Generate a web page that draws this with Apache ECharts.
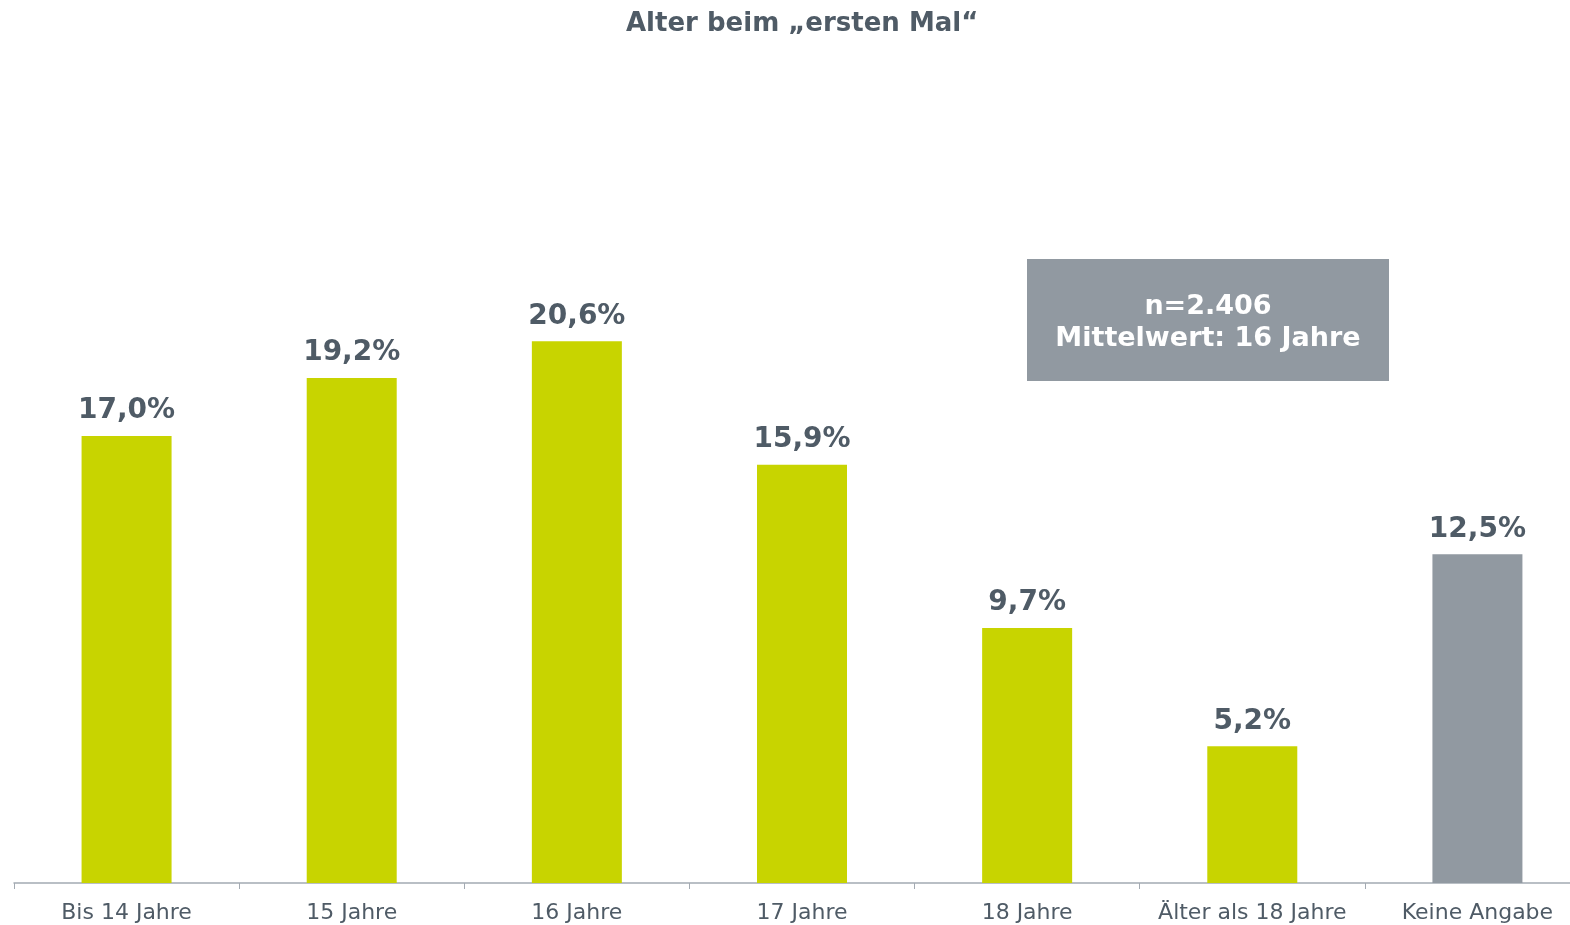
<!DOCTYPE html>
<html>
<head>
<meta charset="utf-8">
<script src="https://cdn.jsdelivr.net/npm/echarts@6/dist/echarts.min.js"></script>
<style>
  html, body { margin: 0; padding: 0; background: #fff; }
  #chart { width: 1570px; height: 925px; }
</style>
</head>
<body>
<div id="chart"></div>
<script>
// Altersgruppen und Anteile in %
const categories = ['Bis 14 Jahre', '15 Jahre', '16 Jahre', '17 Jahre', '18 Jahre', 'Älter als 18 Jahre', 'Keine Angabe']
const values = [17.0, 19.2, 20.6, 15.9, 9.7, 5.2, 12.5]
const noteLines = ['n=2.406', 'Mittelwert: 16 Jahre']

const GREEN = '#c8d400'
const GREY = '#9199a1'
const TEXT = '#4f5b66'
const FONT = 'Verdana, "DejaVu Sans", sans-serif'

const chart = echarts.init(document.getElementById('chart'))

chart.setOption({
  animation: false,
  textStyle: { fontFamily: FONT },
  title: {
    text: 'Alter beim „ersten Mal“',
    left: 621, top: 6,
    textStyle: { color: TEXT, fontSize: 26, fontWeight: 'bold', fontFamily: FONT },
  },
  // das Diagramm läuft rechts etwas über den Rand hinaus
  grid: { left: 14, width: 1576, top: 94, bottom: 42, containLabel: false, outerBoundsMode: 'none' },
  xAxis: {
    type: 'category', data: categories,
    axisLine: { lineStyle: { color: '#a3aab2', width: 1.5 } },
    axisTick: { show: true, length: 6, lineStyle: { color: '#a3aab2' } },
    axisLabel: { color: TEXT, fontSize: 22, margin: 19, interval: 0 },
  },
  yAxis: {
    type: 'value', min: 0, max: 30, show: false,
  },
  series: [{
    type: 'bar', barWidth: 90,
    data: values.map((v, i) => ({
      value: v,
      itemStyle: { color: i === values.length - 1 ? GREY : GREEN },
    })),
    label: {
      show: true, position: 'top', distance: 11,
      color: TEXT, fontSize: 28, fontWeight: 'bold', fontFamily: FONT,
      formatter: (p) => p.value.toFixed(1).replace('.', ',') + '%',
    },
  }],
  graphic: [{
    type: 'group', left: 1027, top: 259,
    children: [
      { type: 'rect', shape: { x: 0, y: 0, width: 362, height: 122 }, style: { fill: GREY } },
      {
        type: 'text', x: 181, y: 64,
        style: {
          text: noteLines.join('\n'), fill: '#fff', align: 'center', verticalAlign: 'middle',
          font: 'bold 27px ' + FONT, lineHeight: 32,
        },
      },
    ],
  }],
})
</script>
</body>
</html>
